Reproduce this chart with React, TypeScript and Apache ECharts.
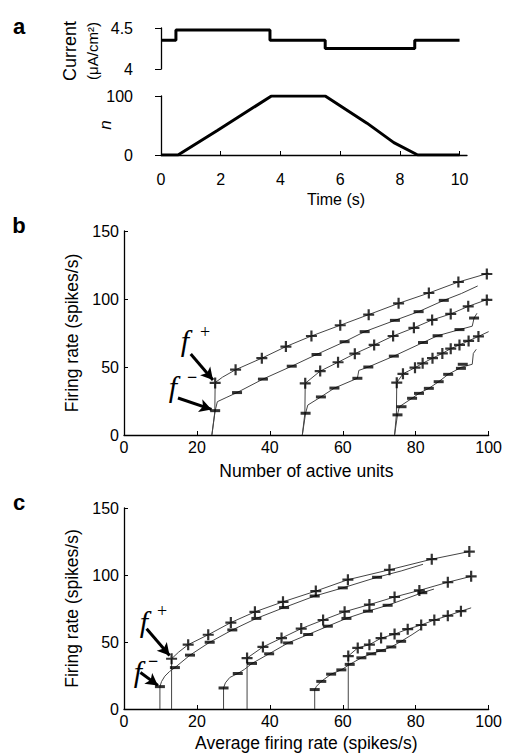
import React, { useEffect, useRef } from 'react';
import * as echarts from 'echarts';

// ---------- panel a ----------
const timeTicks = [0, 2, 4, 6, 8, 10];
const currentSteps = [[0, 4.35], [0.5, 4.35], [0.5, 4.475], [3.65, 4.475], [3.65, 4.35], [5.5, 4.35], [5.5, 4.25], [8.5, 4.25], [8.5, 4.35], [10, 4.35]];
const unitsN = [[0, 0], [0.57, 0], [1.9, 42], [3.7, 100], [5.5, 100], [6.9, 54], [7.8, 21], [8.6, 0], [10, 0]];

// ---------- panel b (x = number of active units) ----------
const bPlus25Line = [[24.1, 0], [24.9, 17], [25, 38.5], [27, 42.5], [30.6, 48], [37.8, 56.5], [44.4, 65], [51.4, 72.8], [59.3, 80.7], [67.1, 88.5], [75.3, 96.8], [83.6, 104.4], [91.7, 112.5], [100, 119]];
const bPlus25Marks = [[25, 38.3], [30.6, 48], [37.8, 56.5], [44.4, 65], [51.4, 72.8], [59.3, 80.7], [67.1, 88.5], [75.3, 96.8], [83.6, 104.4], [91.7, 112.5], [99.5, 118.4]];
const bMinus25Line = [[24.1, 0], [25, 17.9], [25.6, 24.5], [28, 27.5], [31, 31.2], [38.1, 41.1], [46, 50.6], [52.8, 59.2], [60.5, 68.6], [66, 76], [74.3, 84.3], [80.8, 90.7], [87.7, 99], [92.5, 104], [97, 109.6]];
const bMinus25Marks = [[25, 17.9], [31, 31.2], [38.1, 41.1], [46, 50.6], [52.8, 59.2], [60.5, 68.6], [66, 76], [74.3, 84.3], [80.8, 90.7], [87.7, 99]];
const bPlus50Line = [[48.9, 0], [49.6, 16], [49.7, 38], [53.8, 47], [58.7, 53.5], [63.3, 59.8], [68.6, 66.2], [73.8, 72.8], [79.5, 78.8], [84.5, 84.6], [89.6, 89], [94.4, 94.6], [100, 100]];
const bPlus50Marks = [[49.7, 38], [53.8, 47], [58.7, 53.5], [63.3, 59.8], [68.6, 66.2], [73.8, 72.8], [79.5, 78.8], [84.5, 84.6], [89.6, 89], [94.4, 94.6], [99.5, 99.3]];
const bMinus50Line = [[48.9, 0], [49.8, 16], [50.4, 22], [54, 28], [57.7, 34.5], [64, 41.7], [64.4, 47.5], [67, 50], [74, 58], [82, 68], [86, 73], [92, 77.5], [95.5, 80], [96, 86], [96.8, 89.5]];
const bMinus50Marks = [[49.8, 16], [54, 28], [57.7, 34.5], [64, 41.7], [67, 50], [74, 58], [82, 68], [86, 73], [92, 77.5], [96, 86]];
const bPlus75Line = [[74.2, 0], [74.7, 15], [74.8, 38.5], [76.5, 45], [79.8, 49.5], [81.9, 52.7], [84.6, 56.5], [87.3, 60], [89.6, 63.5], [92, 66.2], [94.5, 69.2], [97.2, 72.5], [100, 76]];
const bPlus75Marks = [[74.8, 38.5], [76.5, 45], [79.8, 49.5], [81.9, 52.7], [84.6, 56.5], [87.3, 60], [89.6, 63.5], [92, 66.2], [94.5, 69.2], [97.2, 72.5]];
const bMinus75Line = [[74.2, 0], [75, 14.8], [75.5, 20.8], [79, 27], [80.9, 30.6], [83.6, 34.3], [86.3, 39.2], [88.9, 44.6], [92.5, 49.8], [95.5, 52], [95.8, 60], [96.6, 63]];
const bMinus75Marks = [[75, 14.8], [76.1, 20.8], [79, 27], [80.9, 30.6], [83.6, 34.3], [86.3, 39.2], [88.9, 44.6], [92.4, 49], [92.9, 52]];

// ---------- panel c (x = average firing rate) ----------
const cPlus1Line = [[13.05, 0], [13.05, 37.5], [15, 42.5], [17.6, 48], [23.1, 55.4], [29.3, 64.5], [35.9, 72.5], [43.6, 80], [52.6, 88], [61.4, 96.5], [72.8, 103.9], [84.4, 111.8], [94.7, 117.5]];
const cPlus1Marks = [[13.05, 37.5], [17.6, 48], [23.1, 55.4], [29.3, 64.5], [35.9, 72.5], [43.6, 80], [52.6, 88], [61.4, 96.5], [72.8, 103.9], [84.4, 111.8], [94.7, 117.5]];
const cMinus1Line = [[9.85, 0], [9.85, 16.7], [10.3, 20.5], [11.2, 24.5], [12.5, 28], [13.96, 30.9], [18.1, 40.2], [23.5, 49.8], [29.7, 59], [36.3, 67.6], [43.9, 75.7], [52.3, 84.3], [60, 90.4], [69.4, 98.3], [76, 103], [82, 108]];
const cMinus1Marks = [[9.85, 16.7], [13.96, 30.9], [18.1, 40.2], [23.5, 49.8], [29.7, 59], [36.3, 67.6], [43.9, 75.7], [52.3, 84.3], [60, 90.4], [69.4, 98.3]];
const cPlus2Line = [[33.75, 0], [33.75, 38], [38.1, 46.3], [43.2, 52.9], [48.6, 60], [54.6, 66.4], [60.5, 72.6], [67.3, 77.9], [74.2, 83.6], [81, 88.5], [88.8, 94.6], [95.2, 99]];
const cPlus2Marks = [[33.75, 38], [38.1, 46.3], [43.2, 52.9], [48.6, 60], [54.6, 66.4], [60.5, 72.6], [67.3, 77.9], [74.2, 83.6], [81, 88.5], [88.8, 94.6], [95.2, 99]];
const cMinus2Line = [[27.3, 0], [27.3, 15.7], [27.8, 19.5], [29, 23.5], [31.2, 26.5], [33, 29.5], [35.1, 34], [39.8, 41.2], [45, 49.3], [50.5, 55.6], [55.9, 61.8], [61, 67.6], [66.9, 73], [72.3, 77.4], [77, 82], [81.8, 86.8], [85, 89.5]];
const cMinus2Marks = [[27.3, 15.7], [31.2, 26.5], [35.1, 34], [39.8, 41.2], [45, 49.3], [50.5, 55.6], [55.9, 61.8], [61, 67.6], [66.9, 73], [72.3, 77.4], [81.8, 86.8]];
const cPlus3Line = [[61.5, 0], [61.5, 39.5], [64.1, 45.6], [67.3, 48], [70.5, 52.9], [74.2, 55.9], [77.8, 59.6], [81.5, 62.7], [85.1, 66.4], [88.8, 69.6], [92.4, 73], [95.2, 75.5]];
const cPlus3Marks = [[61.5, 39.5], [64.1, 45.6], [67.3, 48], [70.5, 52.9], [74.2, 55.9], [77.8, 59.6], [81.5, 62.7], [85.1, 66.4], [88.8, 69.6], [92.4, 73]];
const cMinus3Line = [[52.3, 0], [52.3, 14.5], [52.8, 17], [54.1, 20.6], [56.8, 26], [59.6, 29.2], [61.9, 33.3], [65.1, 38.2], [67.8, 41.2], [70.5, 43.6], [73.3, 46.3], [76, 50.5], [79, 55.5], [81.5, 60]];
const cMinus3Marks = [[52.3, 14.5], [54.1, 20.6], [56.8, 26], [59.6, 29.2], [61.9, 33.3], [65.1, 38.2], [67.8, 41.2], [70.5, 43.6], [73.3, 46.3], [76, 50.5]];

// annotation arrows (data coordinates)
const bArrows = [[[18.3, 59.6], [24.4, 40.5]], [[14.8, 27.2], [24, 18.8]]];
const cArrows = [[[6.2, 59.9], [12.5, 40]], [[4.5, 27.2], [9.3, 17.6]]];

const FONT = '"Liberation Sans", Arial, Helvetica, sans-serif';
const SERIF = '"Liberation Serif", "Times New Roman", serif';
const PLUS = 'path://M4,0H6V4H10V6H6V10H4V6H0V4H4Z';
const MINUS = 'path://M0,0H10V3H0Z';

function lineS(data: number[][], i: number, extra: any = {}) {
  return {
    type: 'line', xAxisIndex: i, yAxisIndex: i, data, symbol: 'none',
    lineStyle: { color: '#444', width: 1 }, emphasis: { disabled: true }, z: 2, ...extra,
  };
}
function markS(data: number[][], i: number, plus: boolean) {
  return {
    type: 'scatter', xAxisIndex: i, yAxisIndex: i, data,
    symbol: plus ? PLUS : MINUS, symbolSize: plus ? [11, 11] : [10, 3],
    itemStyle: { color: '#000' }, emphasis: { disabled: true }, z: 3,
  };
}
function arrows(list: number[][][]) {
  return {
    silent: true, symbol: ['none', 'arrow'], symbolSize: [10, 12],
    lineStyle: { color: '#000', width: 3, type: 'solid' }, label: { show: false },
    emphasis: { disabled: true },
    data: list.map((a) => [{ coord: a[0] }, { coord: a[1] }]),
  };
}

const axisBase = {
  axisLine: { show: true, lineStyle: { color: '#000', width: 1.3 } },
  splitLine: { show: false },
  axisLabel: { color: '#000', fontSize: 16, fontFamily: FONT },
};

function bcX(i: number, name: string, gap: number) {
  return {
    ...axisBase, gridIndex: i, type: 'value', min: 0, max: 100, interval: 20,
    axisTick: { show: true, inside: true, length: 4, lineStyle: { color: '#000' } },
    axisLabel: { ...axisBase.axisLabel, margin: 4 },
    name, nameLocation: 'middle', nameGap: gap,
    nameTextStyle: { color: '#000', fontSize: 17.5, fontFamily: FONT },
  };
}
function bcY(i: number) {
  return {
    ...axisBase, gridIndex: i, type: 'value', min: 0, max: 150, interval: 50,
    axisTick: { show: true, inside: true, length: 4, lineStyle: { color: '#000' } },
    axisLabel: { ...axisBase.axisLabel, margin: 5 },
    name: 'Firing rate (spikes/s)', nameLocation: 'middle', nameGap: 28,
    nameTextStyle: { color: '#000', fontSize: 17.5, fontFamily: FONT },
  };
}

function txt(x: number, y: number, text: string, font: string, rotation = 0) {
  return {
    type: 'text', x, y, rotation, silent: true,
    style: { text, font, fill: '#000', align: 'center', verticalAlign: 'middle' },
  };
}

export default function App() {
  const ref = useRef<HTMLDivElement>(null);
  useEffect(() => {
    if (!ref.current) return;
    const chart = echarts.init(ref.current, undefined, { renderer: 'svg' });
    const option: any = {
      animation: false,
      backgroundColor: '#fff',
      textStyle: { fontFamily: FONT },
      grid: [
        { left: 161, top: 28, width: 306, height: 41 },
        { left: 161, top: 96, width: 306, height: 59 },
        { left: 124, top: 231, width: 366, height: 204 },
        { left: 124, top: 508, width: 366, height: 204 },
      ],
      xAxis: [
        { gridIndex: 0, type: 'value', min: 0, max: 10.25, show: false },
        {
          ...axisBase, gridIndex: 1, type: 'value', min: 0, max: 10.25, offset: 12,
          axisTick: { show: true, inside: true, length: 4, customValues: timeTicks, lineStyle: { color: '#000' } },
          axisLabel: { ...axisBase.axisLabel, margin: 4, customValues: timeTicks },
        },
        bcX(2, 'Number of active units', 27),
        bcX(3, 'Average firing rate (spikes/s)', 25),
      ],
      yAxis: [
        {
          ...axisBase, gridIndex: 0, type: 'value', min: 4, max: 4.5, interval: 0.5, offset: 16,
          axisTick: { show: true, inside: false, length: 6, lineStyle: { color: '#000' } },
          axisLabel: { ...axisBase.axisLabel, margin: 12 },
        },
        {
          ...axisBase, gridIndex: 1, type: 'value', min: 0, max: 100, interval: 100, offset: 16,
          axisTick: { show: true, inside: false, length: 6, lineStyle: { color: '#000' } },
          axisLabel: { ...axisBase.axisLabel, margin: 12 },
        },
        bcY(2),
        bcY(3),
      ],
      series: [
        { type: 'line', xAxisIndex: 0, yAxisIndex: 0, data: currentSteps, symbol: 'none', lineStyle: { color: '#000', width: 3 }, emphasis: { disabled: true } },
        { type: 'line', xAxisIndex: 1, yAxisIndex: 1, data: unitsN, symbol: 'none', lineStyle: { color: '#000', width: 3 }, emphasis: { disabled: true } },

        lineS(bPlus25Line, 2, { markLine: arrows(bArrows) }),
        lineS(bMinus25Line, 2),
        lineS(bPlus50Line, 2),
        lineS(bMinus50Line, 2),
        lineS(bPlus75Line, 2),
        lineS(bMinus75Line, 2),
        markS(bPlus25Marks, 2, true),
        markS(bMinus25Marks, 2, false),
        markS(bPlus50Marks, 2, true),
        markS(bMinus50Marks, 2, false),
        markS(bPlus75Marks, 2, true),
        markS(bMinus75Marks, 2, false),

        lineS(cPlus1Line, 3, { markLine: arrows(cArrows) }),
        lineS(cMinus1Line, 3),
        lineS(cPlus2Line, 3),
        lineS(cMinus2Line, 3),
        lineS(cPlus3Line, 3),
        lineS(cMinus3Line, 3),
        markS(cPlus1Marks, 3, true),
        markS(cMinus1Marks, 3, false),
        markS(cPlus2Marks, 3, true),
        markS(cMinus2Marks, 3, false),
        markS(cPlus3Marks, 3, true),
        markS(cMinus3Marks, 3, false),
      ],
      graphic: [
        txt(19, 26, 'a', `bold 22px ${FONT}`),
        txt(19, 225, 'b', `bold 22px ${FONT}`),
        txt(19, 502, 'c', `bold 22px ${FONT}`),
        txt(70, 51, 'Current', `18px ${FONT}`, Math.PI / 2),
        txt(92, 51, '(μA/cm²)', `15px ${FONT}`, Math.PI / 2),
        txt(105, 125, 'n', `italic 17px ${FONT}`, Math.PI / 2),
        txt(336, 199, 'Time (s)', `16px ${FONT}`),
        // f+ / f- annotations, panel b
        txt(185, 340, 'f', `italic 30px ${SERIF}`),
        txt(205, 332, '+', `18px ${SERIF}`),
        txt(173, 386, 'f', `italic 30px ${SERIF}`),
        txt(192, 377, '−', `bold 18px ${SERIF}`),
        // panel c
        txt(144, 621, 'f', `italic 30px ${SERIF}`),
        txt(162, 611, '+', `18px ${SERIF}`),
        txt(138, 671, 'f', `italic 30px ${SERIF}`),
        txt(153, 661, '−', `bold 18px ${SERIF}`),
      ],
    };
    chart.setOption(option);
    return () => chart.dispose();
  }, []);
  return <div ref={ref} style={{ position: 'absolute', left: 0, top: 0, width: 505, height: 753 }} />;
}
